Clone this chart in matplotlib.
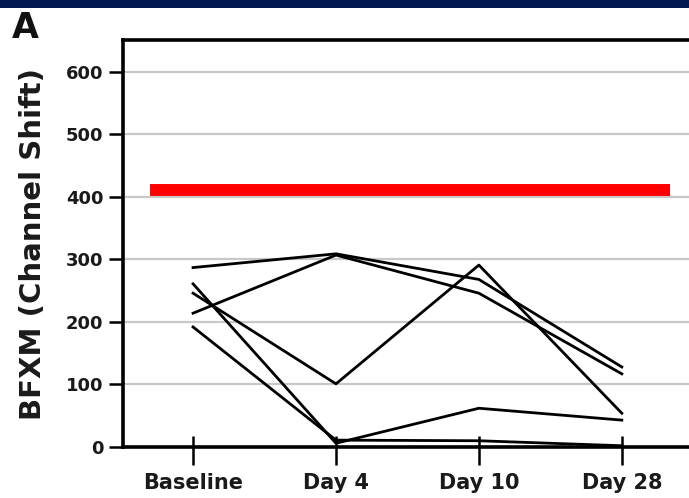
import matplotlib
matplotlib.use("Agg")
import matplotlib.pyplot as plt
from matplotlib.patches import Rectangle

categories = ["Baseline", "Day 4", "Day 10", "Day 28"]
subjects = {
    "S1": [287, 309, 268, 128],
    "S2": [214, 307, 246, 117],
    "S3": [246, 101, 291, 54],
    "S4": [261, 6, 62, 43],
    "S5": [192, 11, 10, 2],
}
threshold = 411
threshold_span = [-0.30, 3.34]
yticks = [0, 100, 200, 300, 400, 500, 600]

fig = plt.figure(figsize=(6.89, 4.98), dpi=100)
fig.patches.append(Rectangle((0, 1 - 8 / 498), 1, 8 / 498, transform=fig.transFigure,
                             facecolor="#001a4f", edgecolor="none", zorder=0))

ax = fig.add_axes([123 / 689, 51 / 498, (689 - 123) / 689, (447 - 40) / 498])
x = list(range(len(categories)))

for y in yticks[1:]:
    ax.axhline(y, color="#c8c8c8", lw=1.6, zorder=1)

ax.plot(threshold_span, [threshold, threshold], color="#ff0000", lw=8.6,
        solid_capstyle="butt", zorder=3)

for name, vals in subjects.items():
    ax.plot(x, vals, color="black", lw=2.0, zorder=4)

ax.set_xlim(-0.49, 3.47)
ax.set_ylim(0, 651)
ax.set_xticks(x)
ax.set_xticks(x, minor=True)
ax.xaxis.remove_overlapping_locs = False
ax.set_xticklabels(categories, fontsize=15, fontweight="bold", color="#1a1a1a")
ax.set_yticks(yticks)
ax.set_yticklabels([str(v) for v in yticks], fontsize=13, fontweight="bold", color="#1a1a1a")
ax.tick_params(axis="y", which="major", direction="out", length=10, width=1.8, pad=4)
ax.tick_params(axis="x", which="major", direction="out", length=13, width=1.8, pad=6)
ax.tick_params(axis="x", which="minor", direction="in", length=8, width=1.8)

for s in ["left", "top", "bottom"]:
    ax.spines[s].set_linewidth(2.6)
    ax.spines[s].set_zorder(6)
ax.spines["right"].set_visible(False)

ax.set_ylabel("BFXM (Channel Shift)", fontsize=21, fontweight="bold", color="#1a1a1a", labelpad=14)

fig.text(12 / 689, 1 - 38 / 498, "A", fontsize=25, fontweight="bold", color="#111111")

fig.savefig("out.png", dpi=100)
